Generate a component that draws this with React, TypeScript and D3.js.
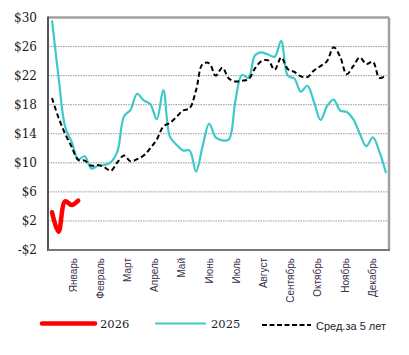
import React from "react";
import * as d3 from "d3";

const months = ["Январь","Февраль","Март","Апрель","Май","Июнь","Июль","Август","Сентябрь","Октябрь","Ноябрь","Декабрь"];
const yTicks = [30, 26, 22, 18, 14, 10, 6, 2, -2];

const series2026 = [3.2, 0.5, 4.7, 4.2, 4.8];
const series2025 = [29.6, 21.8, 15.0, 12.9, 10.5, 10.9, 9.2, 9.6, 9.7, 10.1, 11.6, 16.4, 17.3, 19.5, 18.6, 18.1, 16.0, 20.0, 13.6, 12.5, 11.7, 11.7, 8.8, 12.3, 15.4, 13.5, 13.1, 13.2, 18.5, 22.1, 21.7, 24.8, 25.2, 24.9, 24.6, 26.8, 22.0, 21.6, 19.8, 20.6, 18.4, 15.9, 17.8, 18.7, 17.2, 17.0, 16.0, 14.0, 12.3, 13.5, 11.5, 8.6];
const avg5 = [18.9, 16.2, 14.0, 12.2, 10.4, 10.3, 9.6, 9.7, 9.4, 8.9, 10.1, 11.0, 10.2, 10.5, 11.0, 12.0, 13.2, 15.0, 15.5, 16.3, 17.2, 17.5, 20.0, 23.6, 23.7, 22.0, 23.1, 21.6, 21.2, 21.3, 21.5, 23.0, 24.0, 24.1, 22.8, 24.5, 22.9, 22.5, 21.9, 21.8, 22.7, 23.3, 24.0, 25.9, 24.6, 22.2, 23.3, 24.5, 23.6, 23.9, 21.7, 22.0];

const SERIF = "DejaVu Serif, serif";
const SANS = "Liberation Sans, Arial, sans-serif";

const legendItems = [
  { label: "2026", color: "#ff0000", width: 4.5, dash: "", font: SERIF, size: 11.5 },
  { label: "2025", color: "#3ec9c9", width: 2.2, dash: "", font: SERIF, size: 11.5 },
  { label: "Сред.за 5 лет", color: "#000000", width: 2, dash: "5,2.5", font: SANS, size: 11 },
];

export default function App() {
  const W = 409, H = 355;
  const left = 48, right = 389, top = 17.5, bottom = 250;
  const y = d3.scaleLinear().domain([-2, 30]).range([bottom, top]);
  const x = d3.scaleLinear().domain([0, 51]).range([52, 386]);
  const xm = d3.scaleBand().domain(months).range([59.4, 385.8]);
  const line = d3.line<number>().x((_, i) => x(i)).y(d => y(d)).curve(d3.curveCatmullRom.alpha(0.5));
  const legendX = [42, 155, 262];
  const legendLen = [53, 51, 49];

  return (
    <svg width={W} height={H} style={{ position: "absolute", left: 0, top: 0 }}>
      <rect x={0} y={0} width={W} height={H} fill="#fff" />
      {yTicks.map(t => (
        <g key={t}>
          {t !== 30 && t !== -2 && (
            <line x1={left} x2={right} y1={y(t)} y2={y(t)} stroke="#999" strokeWidth={1} strokeDasharray="1.5,1" />
          )}
          <text x={37} y={y(t)} textAnchor="end" dominantBaseline="central" fontFamily={SERIF} fontSize={12} fill="#1a1a1a">
            {t < 0 ? `-$${-t}` : `$${t}`}
          </text>
        </g>
      ))}
      <line x1={left} x2={right} y1={top} y2={top} stroke="#a0a0a0" strokeWidth={2.5} />
      <line x1={right} x2={right} y1={top} y2={bottom} stroke="#a0a0a0" strokeWidth={2.5} />
      <line x1={left} x2={left} y1={top - 1} y2={bottom + 1} stroke="#555" strokeWidth={2} />
      <line x1={left} x2={right + 1} y1={bottom} y2={bottom} stroke="#777" strokeWidth={2} />

      <path d={line(series2025) ?? ""} fill="none" stroke="#3ec9c9" strokeWidth={2.2} />
      <path d={line(avg5) ?? ""} fill="none" stroke="#000" strokeWidth={2} strokeDasharray="5,3" />
      <path d={line(series2026) ?? ""} fill="none" stroke="#ff0000" strokeWidth={4.5} strokeLinecap="round" strokeLinejoin="round" />

      {months.map(m => (
        <text key={m} transform={`translate(${(xm(m) ?? 0) + xm.bandwidth() / 2},258) rotate(-90)`} textAnchor="end" dy="0.35em" fontFamily={SANS} fontSize={10} fill="#3a3048">
          {m}
        </text>
      ))}

      {legendItems.map((it, i) => (
        <g key={it.label}>
          <line x1={legendX[i]} x2={legendX[i] + legendLen[i]} y1={i === 2 ? 325 : 323.5} y2={i === 2 ? 325 : 323.5} stroke={it.color} strokeWidth={it.width} strokeDasharray={it.dash || undefined} strokeLinecap={i === 0 ? "round" : "butt"} />
          <text x={legendX[i] + legendLen[i] + 5} y={i === 2 ? 326 : 324} dominantBaseline="central" fontFamily={it.font} fontSize={it.size} fill="#1a1a2a">
            {it.label}
          </text>
        </g>
      ))}
    </svg>
  );
}
